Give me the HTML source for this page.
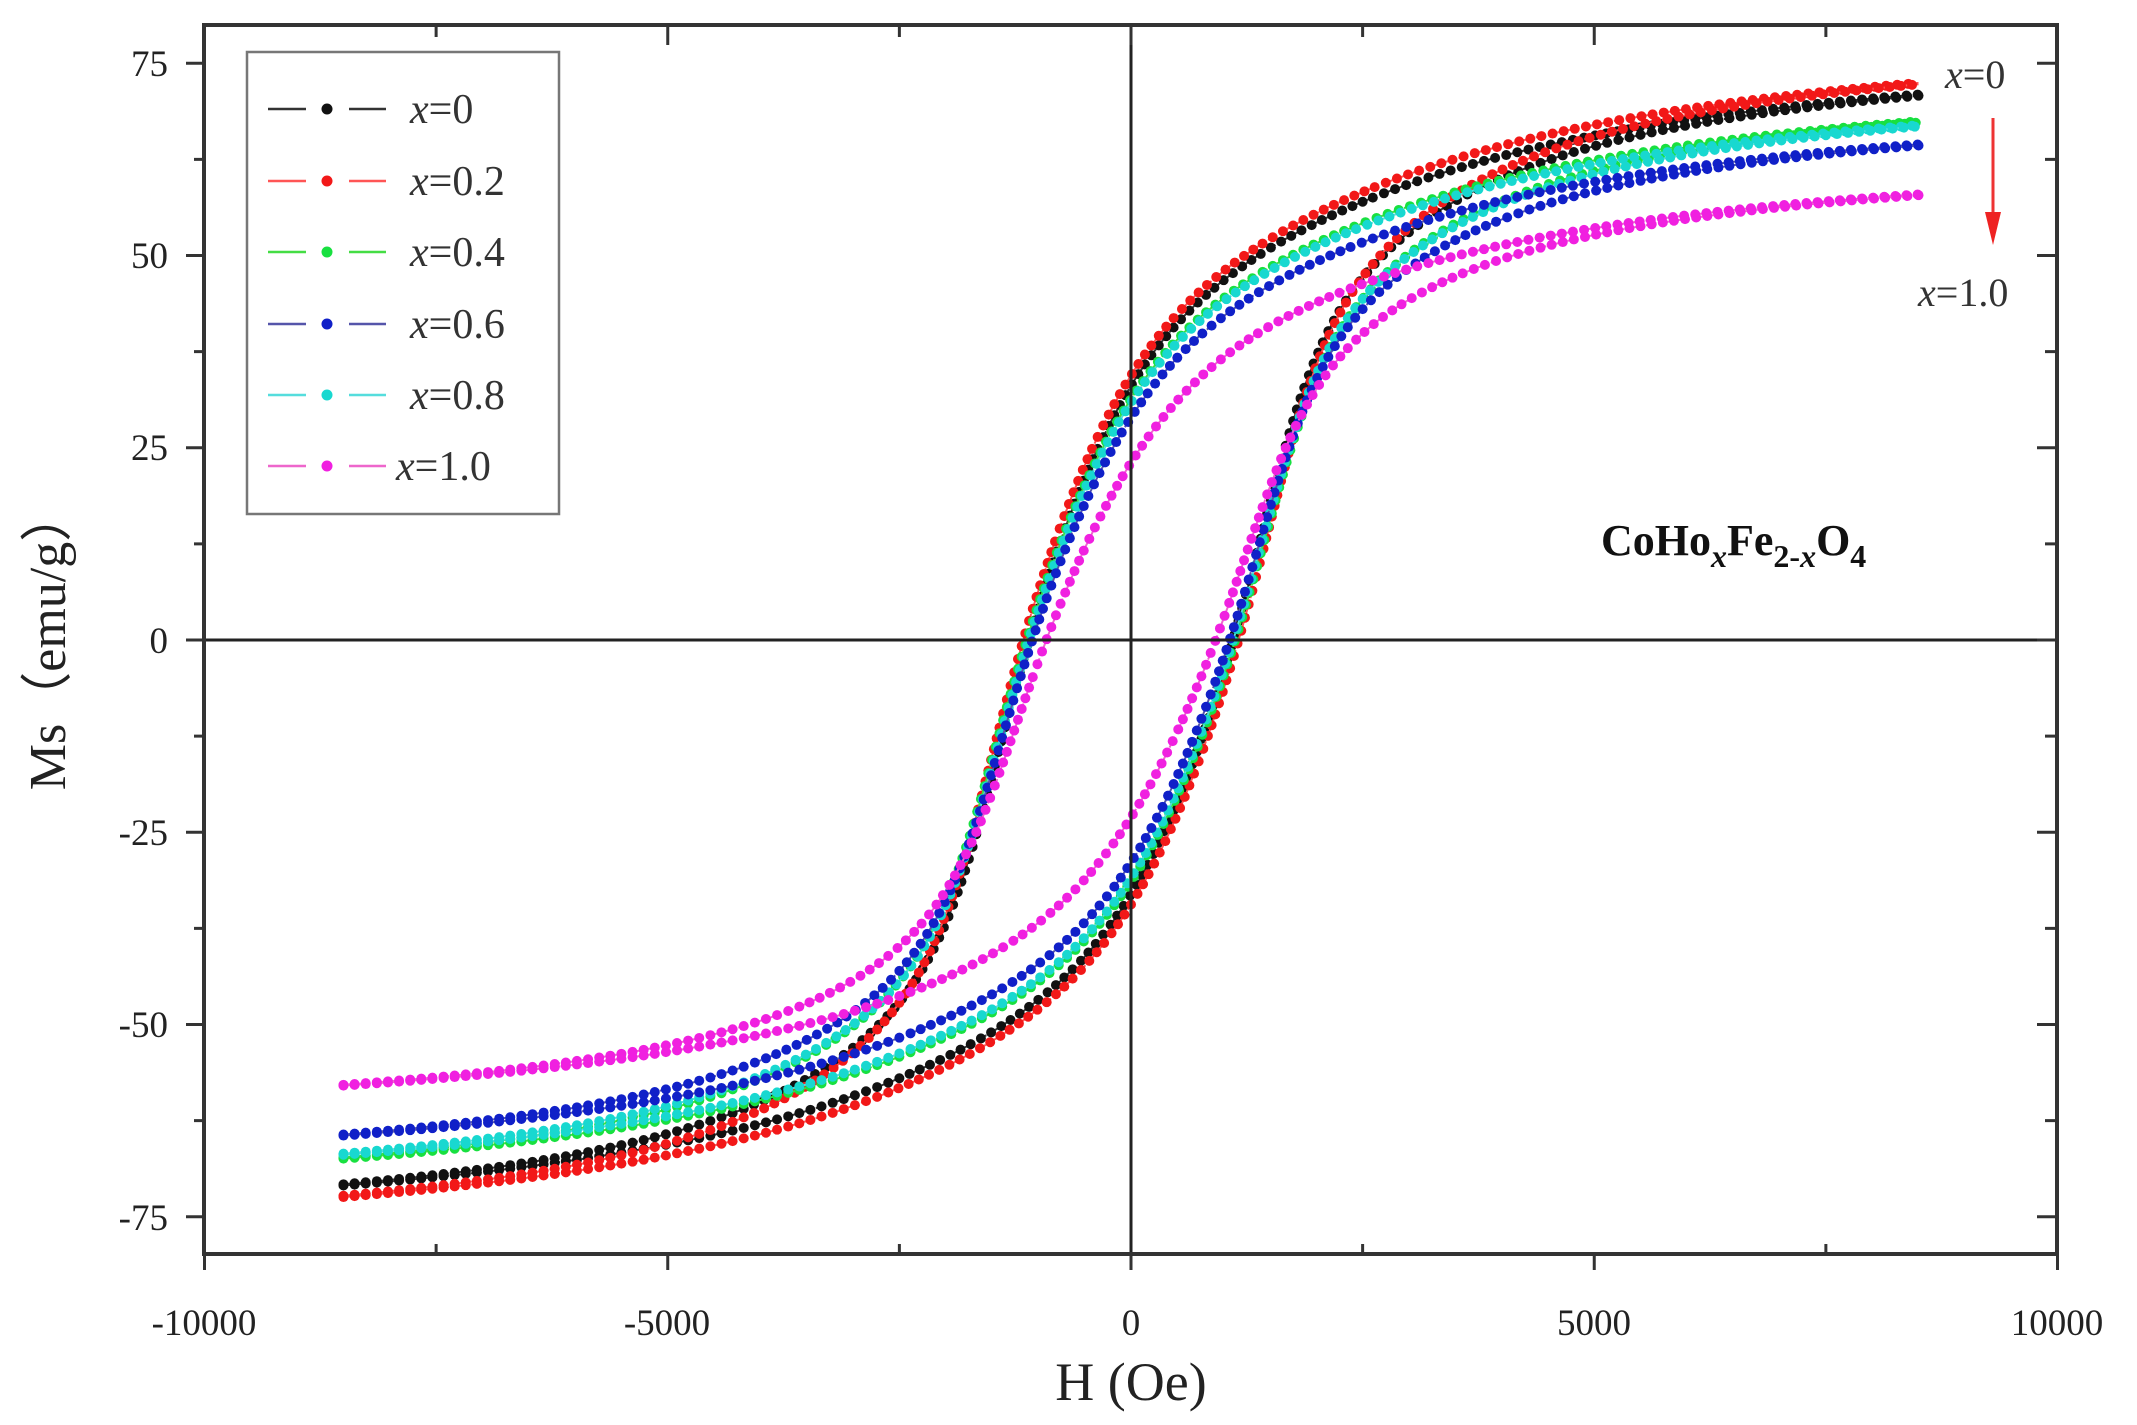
<!DOCTYPE html>
<html><head><meta charset="utf-8"><style>
html,body{margin:0;padding:0;background:#fff;}
svg{display:block;font-family:"Liberation Serif",serif;}
</style></head><body>
<svg id="s" width="2137" height="1425" viewBox="0 0 2137 1425" xmlns="http://www.w3.org/2000/svg">
<rect width="2137" height="1425" fill="#fff"/>
<g id="curves"></g>
<line x1="204" y1="640" x2="2057" y2="640" stroke="#222" stroke-width="3"/>
<line x1="1131" y1="25" x2="1131" y2="1254" stroke="#222" stroke-width="3"/>
<rect x="204" y="25" width="1853" height="1229" fill="none" stroke="#333" stroke-width="4"/>
<g id="ticks" stroke="#333" stroke-width="3"></g>
<g font-size="37" fill="#222" text-anchor="middle">
<text x="204" y="1335">-10000</text><text x="667" y="1335">-5000</text><text x="1131" y="1335">0</text>
<text x="1594" y="1335">5000</text><text x="2057" y="1335">10000</text>
</g>
<g font-size="37" fill="#222" text-anchor="end">
<text x="168" y="76">75</text><text x="168" y="268">50</text><text x="168" y="460">25</text>
<text x="168" y="653">0</text><text x="168" y="845">-25</text><text x="168" y="1037">-50</text><text x="168" y="1230">-75</text>
</g>
<text x="1131" y="1400" font-size="54" text-anchor="middle" fill="#222">H (Oe)</text>
<text transform="translate(65,640) rotate(-90)" font-size="52" text-anchor="middle" fill="#222">Ms（emu/g）</text>
<rect x="247" y="52" width="312" height="462" fill="#fff" stroke="#777" stroke-width="2.5"/>
<g id="leg"></g>
<text x="1945" y="88" font-size="40" fill="#333"><tspan font-style="italic">x</tspan>=0</text>
<line x1="1993" y1="118" x2="1993" y2="215" stroke="#e33" stroke-width="3"/>
<polygon points="1985,212 2001,212 1993,245" fill="#e22"/>
<text x="1918" y="306" font-size="40" fill="#333"><tspan font-style="italic">x</tspan>=1.0</text>
<text x="1601" y="555" font-size="44" font-weight="bold" fill="#111">CoHo<tspan font-size="32" dy="12" font-style="italic">x</tspan><tspan dy="-12">Fe</tspan><tspan font-size="32" dy="12">2-<tspan font-style="italic">x</tspan></tspan><tspan dy="-12">O</tspan><tspan font-size="32" dy="12">4</tspan></text>
</svg>
<script>
var NS="http://www.w3.org/2000/svg";
function X(h){return 1131+h*0.09265;}
function Y(m){return 640-m*7.69;}
function el(t,a,p){var e=document.createElementNS(NS,t);for(var k in a)e.setAttribute(k,a[k]);p.appendChild(e);return e;}
var tk=document.getElementById('ticks');
for(var h=-10000;h<=10000;h+=2500){var x=X(h),maj=(h%5000==0);
 if(maj){el('line',{x1:x,y1:1254,x2:x,y2:1270},tk);} else {el('line',{x1:x,y1:1254,x2:x,y2:1244},tk);}
 el('line',{x1:x,y1:25,x2:x,y2:maj?45:37},tk);}
for(var m=-75;m<=75;m+=12.5){var y=Y(m),maj=(m%25==0);
 if(maj){el('line',{x1:186,y1:y,x2:204,y2:y},tk);el('line',{x1:2057,y1:y,x2:2037,y2:y},tk);}
 else{el('line',{x1:204,y1:y,x2:194,y2:y},tk);el('line',{x1:2057,y1:y,x2:2045,y2:y},tk);}}
var series=[
 {c:'#111',lc:'#333',Ms:71,Hc:1400,w:800,lab:'0'},
 {c:'#f21818',lc:'#f55',Ms:72.5,Hc:1480,w:800,lab:'0.2'},
 {c:'#18e040',lc:'#4d4',Ms:67.5,Hc:1430,w:820,lab:'0.4'},
 {c:'#18d8d0',lc:'#5dd',Ms:67,Hc:1400,w:820,lab:'0.8'},
 {c:'#1020c8',lc:'#55a',Ms:64.5,Hc:1350,w:850,lab:'0.6'},
 {c:'#f020e0',lc:'#e6c',Ms:58,Hc:1150,w:950,lab:'1.0'}
];
var g=document.getElementById('curves');
series.forEach(function(s){
 var k=s.Ms/71;
 function F(u){return k*(30*Math.tanh(u/s.w)+50*2/Math.PI*Math.atan(u/2500));}
 function desc(h){var d=h+s.Hc;var sh=s.Hc*Math.exp(-Math.sqrt(d*d+600*600)/2800);return F(h+sh);}
 [1,-1].forEach(function(sg){
  var pts=[];for(var h=-8500;h<=8500;h+=10){var v=sg==1?desc(h):-desc(-h);pts.push([X(h),Y(v)]);}
  var d='M'+pts.map(function(p){return p[0].toFixed(1)+','+p[1].toFixed(1);}).join('L');
  el('path',{d:d,fill:'none',stroke:s.lc,'stroke-width':2,'stroke-dasharray':'10,6'},g);
  var acc=11,last=null;
  pts.forEach(function(p){if(last){acc+=Math.hypot(p[0]-last[0],p[1]-last[1]);}last=p;
   if(acc>=11){acc=0;el('circle',{cx:p[0],cy:p[1],r:5,fill:s.c},g);}});
 });
});
var lg=document.getElementById('leg');
var order=[0,1,2,4,3,5],ys=[109,181,252,324,395,466];
order.forEach(function(i,k){var s=series[i],y=ys[k];
 el('line',{x1:268,y1:y,x2:306,y2:y,stroke:s.lc,'stroke-width':2.5},lg);
 el('line',{x1:349,y1:y,x2:386,y2:y,stroke:s.lc,'stroke-width':2.5},lg);
 el('circle',{cx:327,cy:y,r:5.5,fill:s.c},lg);
 var t=el('text',{x:(s.lab=='1.0'?396:410),y:y+14,'font-size':42,fill:'#333'},lg);
 var ts=el('tspan',{'font-style':'italic'},t);ts.textContent='x';
 t.appendChild(document.createTextNode('='+s.lab));
});
</script>
</body></html>
